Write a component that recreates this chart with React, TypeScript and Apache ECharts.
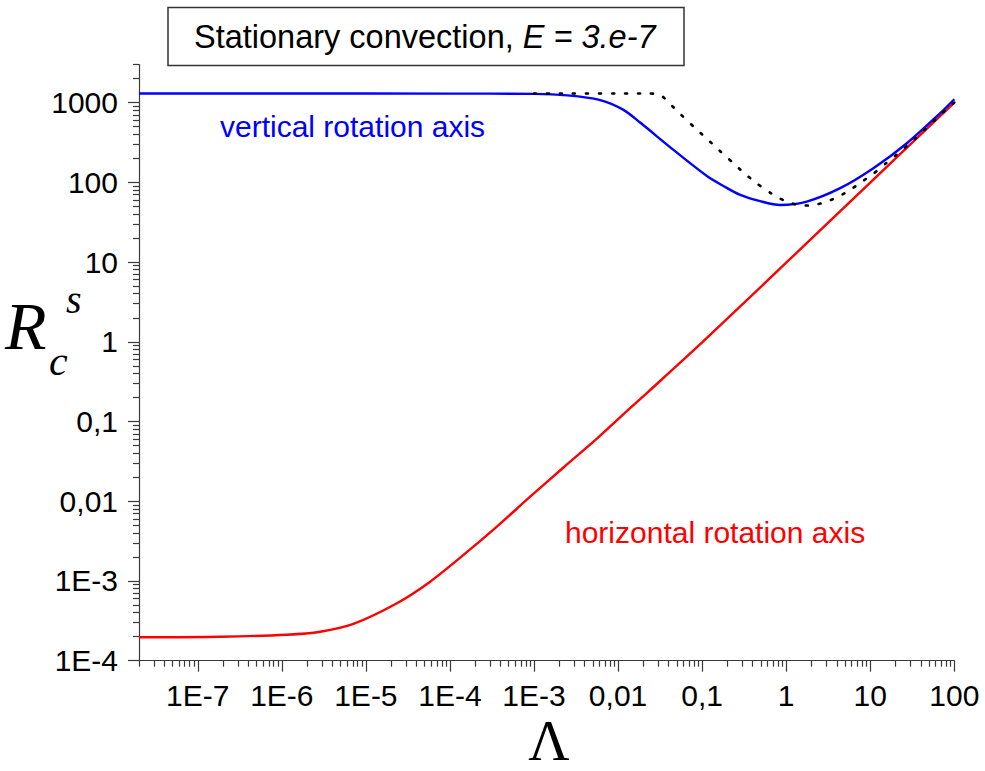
import React, { useEffect, useRef } from "react";
import * as echarts from "echarts";

// ---- axis ticks ----
const X_TICKS = [1e-7, 1e-6, 1e-5, 1e-4, 1e-3, 0.01, 0.1, 1, 10, 100];
const X_TICK_LABELS = ["1E-7", "1E-6", "1E-5", "1E-4", "1E-3", "0,01", "0,1", "1", "10", "100"];
const Y_TICKS = [1e-4, 1e-3, 0.01, 0.1, 1, 10, 100, 1000];
const Y_TICK_LABELS = ["1E-4", "1E-3", "0,01", "0,1", "1", "10", "100", "1000"];
const X_MIN = 2e-8;
const X_MAX = 100;
const Y_MIN = 1e-4;
const Y_MAX = 3000;

// ---- vertical rotation axis (blue) ----
const verticalX = [2e-8, 1e-6, 1e-4, 1e-3, 2.5e-3, 6e-3, 0.0116, 0.0183, 0.0456, 0.114, 0.179, 0.284, 0.49, 0.85, 1.76, 4.39, 10.9, 27.3, 68, 100];
const verticalY = [1300, 1300, 1295, 1285, 1230, 1080, 810, 561, 255, 120, 90, 69.5, 58, 52, 57.3, 84.3, 150, 309, 736, 1100];

// ---- horizontal rotation axis (red) ----
const horizontalX = [2e-8, 1.85e-7, 1.15e-6, 2.86e-6, 7.1e-6, 2.34e-5, 5.82e-5, 1.45e-4, 3.62e-4, 9.0e-4, 2.24e-3, 5.6e-3, 0.0139, 0.023, 0.1, 1, 10, 100];
const horizontalY = [1.97e-4, 2.0e-4, 2.12e-4, 2.31e-4, 2.89e-4, 5.25e-4, 9.8e-4, 2.12e-3, 4.8e-3, 0.0114, 0.0265, 0.061, 0.147, 0.237, 0.98, 9.8, 99, 1000];

// ---- dotted black curve ----
const dottedX = [0.001, 0.0241, 0.0323, 0.0403, 0.0559, 0.0789, 0.114, 0.161, 0.228, 0.325, 0.46, 0.658, 0.929, 1.315, 1.88, 2.66, 3.8, 5.36, 7.59, 10.9, 15.5, 22.1, 31.3, 44.2, 62.5, 89.3, 100];
const dottedY = [1300, 1300, 1239, 991, 707, 500, 351, 250, 179, 127, 94.6, 73, 59.6, 52.5, 51, 54.7, 63, 76.4, 98, 128, 174, 236, 322, 454, 642, 909, 1000];

const lg = (v: number) => Math.log10(v);

function minorTicks(lo: number, hi: number): number[] {
  const out: number[] = [];
  for (let n = -9; n <= 4; n++) {
    for (let k = 2; k <= 9; k++) {
      const v = k * Math.pow(10, n);
      if (v >= lo * 0.999 && v <= hi * 1.001) out.push(lg(v));
    }
  }
  return out;
}

const SANS = 'Arial, "Liberation Sans", Helvetica, sans-serif';
const SERIF = '"Times New Roman", "Liberation Serif", serif';

export default function App() {
  const ref = useRef<HTMLDivElement>(null);

  useEffect(() => {
    if (!ref.current) return;
    const chart = echarts.init(ref.current, undefined, { renderer: "svg" });

    const xMajor = X_TICKS.map(lg);
    const yMajor = Y_TICKS.map(lg);
    const xLabelOf = (v: number) => {
      const i = xMajor.findIndex((t) => Math.abs(t - v) < 1e-6);
      return i >= 0 ? X_TICK_LABELS[i] : "";
    };
    const yLabelOf = (v: number) => {
      const i = yMajor.findIndex((t) => Math.abs(t - v) < 1e-6);
      return i >= 0 ? Y_TICK_LABELS[i] : "";
    };

    const axisColor = "#3a3a3a";
    const xMin = lg(X_MIN), xMax = lg(X_MAX), yMin = lg(Y_MIN), yMax = lg(Y_MAX);

    chart.setOption({
      animation: false,
      backgroundColor: "#ffffff",
      grid: {
        left: 139,
        top: 64.5,
        right: 985 - 954.3,
        bottom: 771 - 660.7,
        containLabel: false,
        outerBoundsMode: "none",
      },
      xAxis: [
        {
          type: "value",
          position: "bottom",
          min: xMin,
          max: xMax,
          axisLine: { show: true, onZero: false, lineStyle: { color: axisColor, width: 1.2 } },
          axisTick: { show: true, inside: false, length: 11, customValues: xMajor, lineStyle: { color: axisColor, width: 1.2 } },
          axisLabel: {
            show: true,
            customValues: xMajor,
            formatter: (v: number) => xLabelOf(v),
            margin: 20,
            color: "#000",
            fontSize: 30,
            fontFamily: SANS,
          },
          splitLine: { show: false },
        },
        {
          type: "value",
          position: "bottom",
          min: xMin,
          max: xMax,
          axisLine: { show: false, onZero: false },
          axisTick: { show: true, inside: false, length: 6, customValues: minorTicks(X_MIN, X_MAX), lineStyle: { color: axisColor, width: 1.2 } },
          axisLabel: { show: false },
          splitLine: { show: false },
        },
      ],
      yAxis: [
        {
          type: "value",
          position: "left",
          min: yMin,
          max: yMax,
          axisLine: { show: true, onZero: false, lineStyle: { color: axisColor, width: 1.2 } },
          axisTick: { show: true, inside: false, length: 11, customValues: yMajor, lineStyle: { color: axisColor, width: 1.2 } },
          axisLabel: {
            show: true,
            customValues: yMajor,
            formatter: (v: number) => yLabelOf(v),
            margin: 21,
            color: "#000",
            fontSize: 30,
            fontFamily: SANS,
          },
          splitLine: { show: false },
        },
        {
          type: "value",
          position: "left",
          min: yMin,
          max: yMax,
          axisLine: { show: false, onZero: false },
          axisTick: { show: true, inside: false, length: 6, customValues: minorTicks(Y_MIN, Y_MAX), lineStyle: { color: axisColor, width: 1.2 } },
          axisLabel: { show: false },
          splitLine: { show: false },
        },
      ],
      series: [
        {
          name: "horizontal rotation axis",
          type: "line",
          xAxisIndex: 0,
          yAxisIndex: 0,
          data: horizontalX.map((x, i) => [lg(x), lg(horizontalY[i])]),
          symbol: "none",
          smooth: 0.3,
          lineStyle: { color: "#ff0000", width: 2.4 },
          z: 2,
        },
        {
          name: "vertical rotation axis",
          type: "line",
          xAxisIndex: 0,
          yAxisIndex: 0,
          data: verticalX.map((x, i) => [lg(x), lg(verticalY[i])]),
          symbol: "none",
          smooth: 0.3,
          lineStyle: { color: "#0000ff", width: 2.4 },
          z: 3,
        },
        {
          name: "dotted",
          type: "line",
          xAxisIndex: 0,
          yAxisIndex: 0,
          data: dottedX.map((x, i) => [lg(x), lg(dottedY[i])]),
          symbol: "none",
          smooth: 0.2,
          lineStyle: { color: "#000000", width: 2.6, type: [2, 11], cap: "round" },
          z: 4,
        },
      ],
      graphic: [
        {
          type: "rect",
          shape: { x: 168, y: 7.5, width: 516, height: 58 },
          style: { fill: "#ffffff", stroke: "#333333", lineWidth: 1.5 },
          z: 10,
        },
        {
          type: "text",
          x: 194,
          y: 36.5,
          style: {
            text: "{a|Stationary convection, }{b|E = 3.e-7}",
            verticalAlign: "middle",
            align: "left",
            rich: {
              a: { fontSize: 32.5, fontFamily: SANS, fill: "#000" },
              b: { fontSize: 32.5, fontFamily: SANS, fontStyle: "italic", fill: "#000" },
            },
          },
          z: 11,
        },
        {
          type: "text",
          x: 220,
          y: 126,
          style: { text: "vertical rotation axis", fontSize: 30, fontFamily: SANS, fill: "#0000ff", verticalAlign: "middle", align: "left" },
          z: 11,
        },
        {
          type: "text",
          x: 565,
          y: 532.5,
          style: { text: "horizontal rotation axis", fontSize: 30, fontFamily: SANS, fill: "#ff0000", verticalAlign: "middle", align: "left" },
          z: 11,
        },
        {
          type: "text",
          x: 5,
          y: 325.5,
          style: { text: "R", fontSize: 68, fontFamily: SERIF, fontStyle: "italic", fill: "#000", verticalAlign: "middle", align: "left" },
          z: 11,
        },
        {
          type: "text",
          x: 66,
          y: 299,
          style: { text: "s", fontSize: 40, fontFamily: SERIF, fontStyle: "italic", fill: "#000", verticalAlign: "middle", align: "left" },
          z: 11,
        },
        {
          type: "text",
          x: 49,
          y: 361,
          style: { text: "c", fontSize: 42, fontFamily: SERIF, fontStyle: "italic", fill: "#000", verticalAlign: "middle", align: "left" },
          z: 11,
        },
        {
          type: "text",
          x: 549,
          y: 740,
          style: { text: "Λ", fontSize: 57, fontFamily: SERIF, fill: "#000", verticalAlign: "middle", align: "center" },
          z: 11,
        },
      ],
    });

    return () => chart.dispose();
  }, []);

  return (
    <div
      ref={ref}
      style={{ position: "absolute", left: 0, top: 0, width: 985, height: 771, background: "#fff" }}
    />
  );
}
